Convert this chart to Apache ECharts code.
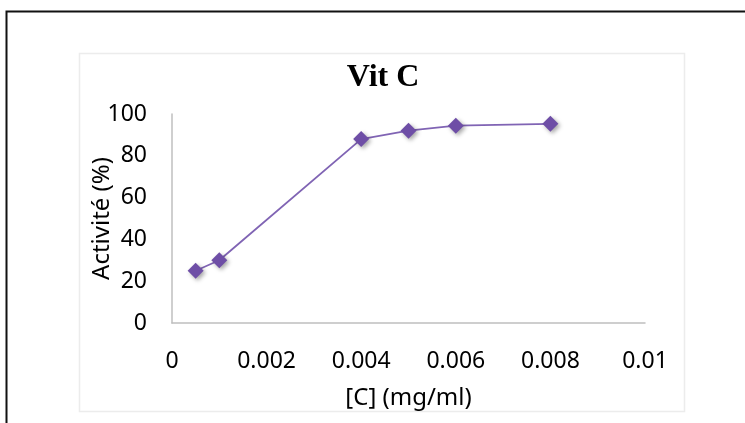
<!DOCTYPE html>
<html>
<head>
<meta charset="utf-8">
<script src="https://cdn.jsdelivr.net/npm/echarts@6/dist/echarts.min.js"></script>
<style>
html,body{margin:0;padding:0;background:#fff;overflow:hidden;}
#c{width:745px;height:423px;}
</style>
</head>
<body>
<div id="c"></div>
<script>
const concentrations = [0.0005, 0.001, 0.004, 0.005, 0.006, 0.008];
const activity = [25, 30, 88, 92, 94.4, 95.3];
const titleText = 'Vit C';
const xAxisName = '[C] (mg/ml)';
const yAxisName = 'Activité (%)';

const chart = echarts.init(document.getElementById('c'), null, {renderer: 'canvas'});
const labelFont = {fontFamily: 'Noto Sans', fontSize: 23, color: '#000'};
const nameFont = {fontFamily: 'Noto Sans', fontSize: 24, color: '#000'};
chart.setOption({
  animation: false,
  backgroundColor: '#fff',
  title: {
    text: titleText,
    left: 378, top: 57, textAlign: 'center',
    textStyle: {fontFamily: 'Liberation Serif', fontWeight: 'bold', fontSize: 32, color: '#000'}
  },
  graphic: [
    {type: 'polyline', shape: {points: [[6.5, 423], [6.5, 11.5], [745, 11.5]]}, style: {fill: 'none', stroke: '#111', lineWidth: 2}, silent: true},
    {type: 'rect', shape: {x: 79.5, y: 53.5, width: 605, height: 358}, style: {fill: 'none', stroke: '#ececec', lineWidth: 1.5}, silent: true}
  ],
  grid: {left: 172, right: 100, top: 114, bottom: 100},
  xAxis: {
    type: 'value', min: 0, max: 0.01, interval: 0.002,
    name: xAxisName, nameLocation: 'middle', nameGap: 63, nameMoveOverlap: false,
    nameTextStyle: nameFont,
    axisLine: {show: true, lineStyle: {color: '#bfbfbf', width: 1.5}},
    axisTick: {show: false},
    splitLine: {show: false},
    axisLabel: Object.assign({margin: 27, formatter: v => String(+v.toFixed(4))}, labelFont)
  },
  yAxis: {
    type: 'value', min: 0, max: 100, interval: 20,
    name: yAxisName, nameLocation: 'middle', nameGap: 58, nameMoveOverlap: false,
    nameTextStyle: nameFont,
    axisLine: {show: true, lineStyle: {color: '#bfbfbf', width: 1.5}},
    axisTick: {show: false},
    splitLine: {show: false},
    axisLabel: Object.assign({margin: 25}, labelFont)
  },
  series: [{
    type: 'line',
    data: concentrations.map((x, i) => [x, activity[i]]),
    symbol: 'diamond', symbolSize: 16,
    lineStyle: {color: '#8064B4', width: 1.8},
    itemStyle: {color: '#6E4EA6', shadowColor: 'rgba(0,0,0,0.35)', shadowBlur: 4, shadowOffsetX: 2, shadowOffsetY: 2}
  }]
});
</script>
</body>
</html>
